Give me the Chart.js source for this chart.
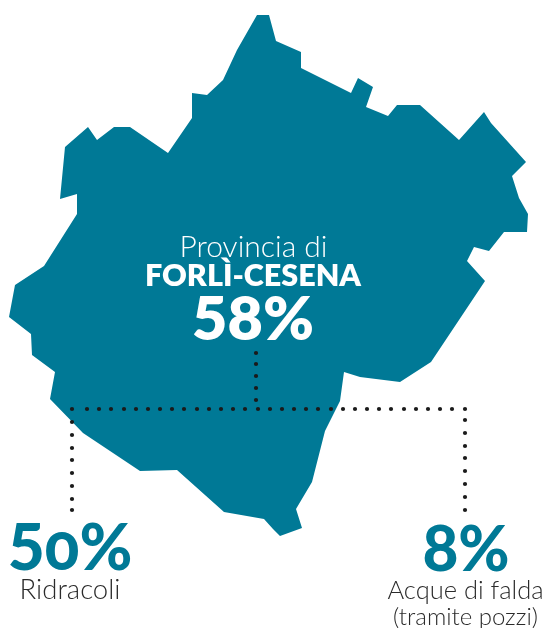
<!DOCTYPE html>
<html>
<head>
<meta charset="utf-8">
<style>
    html, body { margin: 0; padding: 0; background: #fff; overflow: hidden; }
    .wrap { position: relative; width: 546px; height: 628px; }
    /* canvas text has no old-style figures, so this one label is html */
    #bigLabel { position: absolute; transform: translateX(-50%); font: 900 64px/1 Lato, sans-serif; color: #007996; white-space: nowrap; }
    #bigLabel span { font-feature-settings: 'onum'; }
</style>
<script src="https://cdn.jsdelivr.net/npm/chart.js@4"></script>
</head>
<body>
<div class="wrap">
    <canvas id="mapChart"></canvas>
    <div id="bigLabel">5<span>0</span>%</div>
</div>
<script>
// Province outline
const outlineX = [257, 269, 276, 301, 301, 351, 358, 373, 366, 388, 397, 420, 459, 484, 491, 526, 512, 519, 528, 527, 504, 489, 474, 467, 485, 463, 431, 400, 360, 344, 340, 325, 312, 296, 302, 280, 273, 264, 224, 177, 140, 83, 50, 55, 32, 31, 9, 15, 44, 77, 77, 60, 65, 88, 97, 114, 130, 168, 192, 192, 207, 223, 237];
const outlineY = [15, 15, 41, 52, 68, 93, 78, 87, 107, 116, 105, 105, 140, 112, 123, 162, 176, 198, 214, 232, 232, 251, 247, 261, 281, 314, 362, 382, 377, 372, 401, 431, 482, 509, 528, 536, 529, 519, 512, 470, 471, 433, 399, 372, 355, 334, 317, 285, 266, 214, 194, 199, 147, 127, 140, 127, 127, 153, 118, 93, 95, 80, 50];

// Dotted leader lines
const dotsX = [256, 256, 256, 256, 256, 72, 72, 72, 72, 72, 72, 72, 72, 72, 87, 99, 111, 124, 136, 148, 160, 172, 184, 197, 209, 221, 233, 245, 258, 270, 282, 294, 306, 318, 331, 343, 355, 367, 379, 391, 404, 416, 428, 440, 452, 465, 465, 465, 465, 465, 465, 465, 465, 465];
const dotsY = [353, 364, 376, 388, 400, 409, 422, 435, 448, 460, 473, 486, 499, 510, 409, 409, 409, 409, 409, 409, 409, 409, 409, 409, 409, 409, 409, 409, 409, 409, 409, 409, 409, 409, 409, 409, 409, 409, 409, 409, 409, 409, 409, 409, 409, 409, 420, 433, 446, 458, 471, 484, 497, 510];

const TEAL = '#007996';
const FONT = 'Lato, sans-serif';

// Text on the map
const labels = [
    { text: 'Provincia di', x: 253.5, y: 257, font: `300 30px ${FONT}`, color: '#fff' },
    { text: 'FORLÌ-CESENA', x: 253, y: 286, font: `800 30.5px ${FONT}`, color: '#fff' },
    { text: '58%', x: 253, y: 340, font: `800 61px ${FONT}`, color: '#fff' },
    { text: 'Ridracoli', x: 70, y: 599, font: `300 27.5px ${FONT}`, color: '#2b2b2b' },
    { text: '8%', x: 466, y: 571, font: `900 62px ${FONT}`, color: TEAL },
    { text: 'Acque di falda', x: 465.5, y: 599, font: `300 25.5px ${FONT}`, color: '#2b2b2b' },
    { text: '(tramite pozzi)', x: 465.5, y: 625, font: `300 24px ${FONT}`, color: '#2b2b2b' }
];

// Chart.js has no closed polygon fill, so fill the traced line ourselves
const polygonFill = {
    id: 'polygonFill',
    beforeDatasetDraw(chart, args) {
        if (args.index !== 0) return;
        const ctx = chart.ctx;
        ctx.save();
        ctx.beginPath();
        args.meta.dataset.path(ctx);
        ctx.closePath();
        ctx.fillStyle = TEAL;
        ctx.fill();
        ctx.restore();
    }
};

const textLabels = {
    id: 'textLabels',
    afterDraw(chart) {
        const ctx = chart.ctx;
        const { x: xScale, y: yScale } = chart.scales;
        ctx.save();
        ctx.textAlign = 'center';
        ctx.textBaseline = 'alphabetic';
        labels.forEach(l => {
            ctx.font = l.font;
            ctx.fillStyle = l.color;
            ctx.fillText(l.text, xScale.getPixelForValue(l.x), yScale.getPixelForValue(l.y));
        });
        ctx.restore();

        const big = document.getElementById('bigLabel');
        big.style.left = xScale.getPixelForValue(70) + 'px';
        big.style.top = yScale.getPixelForValue(514) + 'px';
    }
};

new Chart(document.getElementById('mapChart'), {
    type: 'scatter',
    data: {
        datasets: [
            {
                label: 'Provincia di Forlì-Cesena',
                data: outlineX.map((x, i) => ({ x, y: outlineY[i] })),
                showLine: true,
                borderWidth: 0,
                borderColor: TEAL,
                pointRadius: 0,
                order: 2
            },
            {
                label: 'Linee',
                data: dotsX.map((x, i) => ({ x, y: dotsY[i] })),
                backgroundColor: '#1a1a1a',
                borderWidth: 0,
                pointRadius: 2.1,
                order: 1
            }
        ]
    },
    options: {
        responsive: true,
        maintainAspectRatio: false,
        animation: false,
        layout: { padding: 0, autoPadding: false },
        plugins: {
            legend: { display: false },
            tooltip: { enabled: false }
        },
        scales: {
            x: { type: 'linear', min: 0, max: 546, display: false },
            y: { type: 'linear', min: 0, max: 628, reverse: true, display: false }
        }
    },
    plugins: [polygonFill, textLabels]
});
</script>
</body>
</html>
